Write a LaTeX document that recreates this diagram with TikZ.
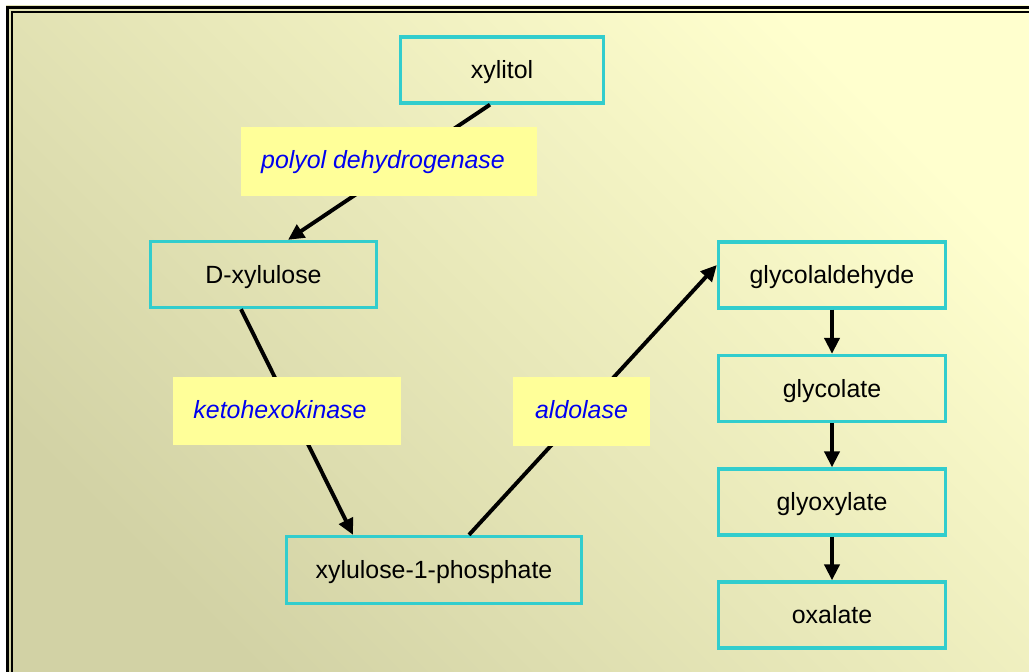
\documentclass[tikz,border=0pt]{standalone}
\usepackage{fontspec}
\setmainfont{Liberation Sans}
\usetikzlibrary{arrows.meta,calc}
\definecolor{boxcyan}{RGB}{50,205,205}
\definecolor{labelyellow}{RGB}{255,255,153}
\definecolor{labelblue}{RGB}{0,0,240}
\definecolor{bgdark}{RGB}{210,210,165}
\definecolor{bglight}{RGB}{255,255,206}
\begin{document}
\begin{tikzpicture}[x=1bp,y=-1bp,
  chem/.style={draw=boxcyan, line width=3.3bp, inner sep=0pt, minimum height=66bp,
    text height=17bp, text depth=0bp,
    font=\fontsize{24.9bp}{29bp}\selectfont, text=black},
  enzyme/.style={fill=labelyellow, inner sep=0pt, minimum height=69bp,
    text height=17bp, text depth=3bp,
    font=\fontsize{24.9bp}{29bp}\selectfont\itshape, text=labelblue},
  conv/.style={line width=3.9bp, -{Triangle[length=16bp,width=15bp]}}]
\useasboundingbox (0,0) rectangle (1029,672);
\shade[top color=bglight, bottom color=bgdark, shading angle=-45] (6,6) rectangle (1029,672);
\draw[line width=3.2bp] (7.6,672) -- (7.6,7.6) -- (1029,7.6);
\draw[line width=1.9bp] (12.2,672) -- (12.2,12.2) -- (1029,12.2);

\node[chem, minimum width=203bp] (xylitol) at (502,70) {xylitol};
\node[chem, minimum width=226bp] (dxyl) at (263.5,274.5) {D-xylulose};
\node[chem, minimum width=227bp] (glyald) at (832,275) {glycolaldehyde};
\node[chem, minimum width=227bp] (glycolate) at (832,388.5) {glycolate};
\node[chem, minimum width=227bp] (glyox) at (832,502) {glyoxylate};
\node[chem, minimum width=227bp] (oxalate) at (832,615) {oxalate};
\node[chem, minimum width=295bp, minimum height=67bp] (x1p) at (434,570) {xylulose-1-phosphate};

\draw[conv] ($(xylitol.south)+(-12,0)$) -- ($(dxyl.north)+(24.5,0)$);
\draw[conv] ($(dxyl.south)+(-22.5,0)$) -- ($(x1p.north)+(-81,0)$);
\draw[conv] ($(x1p.north)+(35,0)$) -- ($(glyald.west)+(0,-10)$);
\draw[conv] (glyald.south) -- (glycolate.north);
\draw[conv] (glycolate.south) -- (glyox.north);
\draw[conv] (glyox.south) -- (oxalate.north);

\node[enzyme, minimum width=296bp] (pdh) at (389,161.5) {polyol dehydrogenase\hspace*{12bp}};
\node[enzyme, minimum width=228bp, minimum height=68bp] (khk) at (287,411) {ketohexokinase\hspace*{14bp}};
\node[enzyme, minimum width=137bp] (ald) at (581.5,411.5) {aldolase};
\end{tikzpicture}
\end{document}
